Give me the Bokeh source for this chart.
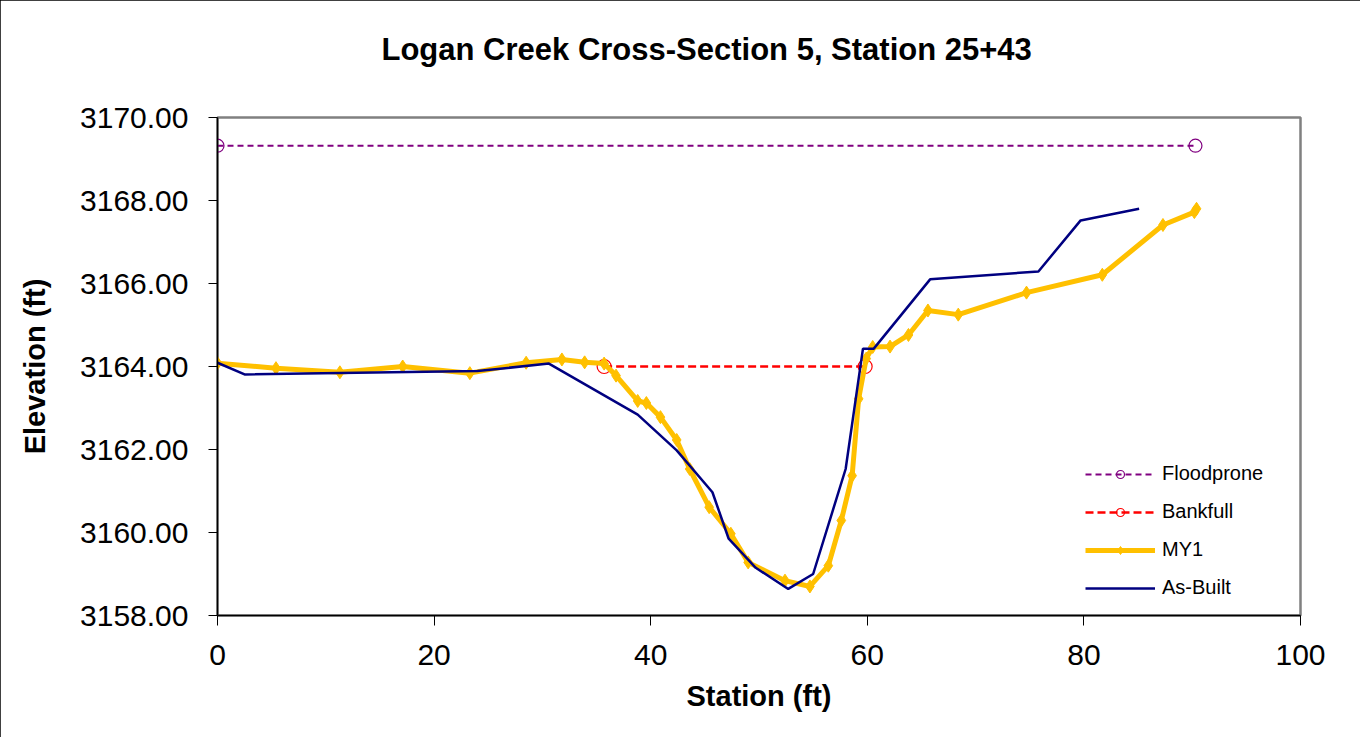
from bokeh.plotting import figure
from bokeh.models import Range1d, Legend, LegendItem, FixedTicker, NumeralTickFormatter, Title
from bokeh.embed import file_html
from bokeh.resources import INLINE

# ---- data ----
my1_station = [0, 5.4, 11.3, 17.1, 23.3, 28.5, 31.8, 33.9, 35.7, 36.8, 38.8, 39.6, 40.9,
               42.4, 43.6, 45.4, 47.4, 49.0, 52.4, 54.7, 56.4, 57.6, 58.6, 59.2, 59.9,
               60.5, 62.1, 63.8, 65.6, 68.4, 74.7, 81.7, 87.3, 90.2, 90.4]
my1_elev = [3164.08, 3163.96, 3163.86, 3164.00, 3163.84, 3164.09, 3164.17, 3164.10, 3164.07,
            3163.78, 3163.17, 3163.12, 3162.78, 3162.23, 3161.53, 3160.61, 3159.97, 3159.28,
            3158.84, 3158.70, 3159.20, 3160.29, 3161.37, 3163.22, 3164.19, 3164.47, 3164.48,
            3164.76, 3165.35, 3165.25, 3165.78, 3166.21, 3167.41, 3167.72, 3167.80]

asbuilt_station = [0, 2.5, 24.0, 30.6, 38.8, 42.4, 45.7, 47.2, 49.7, 52.7, 55.0, 58.0,
                   59.6, 60.6, 65.8, 75.8, 79.7, 85.1]
asbuilt_elev = [3164.09, 3163.81, 3163.89, 3164.07, 3162.84, 3161.98, 3160.97, 3159.85,
                3159.15, 3158.64, 3159.00, 3161.53, 3164.43, 3164.43, 3166.10, 3166.29,
                3167.52, 3167.80]

floodprone_station = [0, 90.3]
floodprone_elev = [3169.32, 3169.32]

bankfull_station = [35.7, 59.8]
bankfull_elev = [3164.0, 3164.0]

x_ticks = [0, 20, 40, 60, 80, 100]
y_ticks = [3158, 3160, 3162, 3164, 3166, 3168, 3170]

title_text = "Logan Creek Cross-Section 5, Station 25+43"
x_label = "Station (ft)"
y_label = "Elevation (ft)"

FONT = "Liberation Sans"

p = figure(frame_width=1083, frame_height=498,
           min_border_left=217, min_border_top=117, min_border_right=60, min_border_bottom=122,
           x_range=Range1d(0, 100), y_range=Range1d(3158, 3170),
           title=title_text,
           output_backend="svg", toolbar_location=None,
           background_fill_color="white", border_fill_color="white")
p.styles = {"outline": "1px solid #000000", "outline-offset": "-1px"}

p.title.text_font = FONT
p.title.text_font_size = "31px"
p.title.text_font_style = "bold"
p.title.text_color = "black"
p.title.align = "left"
p.title.offset = 164
p.title.standoff = 10

# empty spacer title between the chart title and the plot frame
spacer = Title(text=" ", text_font=FONT, text_font_size="20px", standoff=22)
p.add_layout(spacer, "above")

p.grid.visible = False
p.outline_line_color = "#808080"
p.outline_line_width = 2.5

# axes
p.xaxis.ticker = FixedTicker(ticks=x_ticks)
p.yaxis.ticker = FixedTicker(ticks=y_ticks)
p.yaxis.formatter = NumeralTickFormatter(format="0.00")
for ax in (p.xaxis[0], p.yaxis[0]):
    ax.axis_line_color = "black"
    ax.axis_line_width = 1.5
    ax.major_tick_line_color = "black"
    ax.major_tick_line_width = 1
    ax.major_tick_in = 0
    ax.minor_tick_line_color = None
    ax.major_label_text_font = FONT
    ax.major_label_text_font_size = "30px"
    ax.major_label_text_color = "black"
    ax.axis_label_text_font = FONT
    ax.axis_label_text_font_size = "29px"
    ax.axis_label_text_font_style = "bold"
    ax.axis_label_text_color = "black"
p.xaxis.major_tick_out = 10
p.yaxis.major_tick_out = 9
p.xaxis.major_label_standoff = 19
p.yaxis.major_label_standoff = 20
p.xaxis.axis_label = x_label
p.yaxis.axis_label = y_label
p.xaxis.axis_label_standoff = 12
p.yaxis.axis_label_standoff = 26

# series
fp_line = p.line(floodprone_station, floodprone_elev, line_color="#800080", line_width=2,
                 line_dash="6 4")
fp_mark = p.scatter(floodprone_station, floodprone_elev, marker="circle", size=13,
                    line_color="#800080", fill_color=None, line_width=1.2)

bf_line = p.line(bankfull_station, bankfull_elev, line_color="#FF0000", line_width=2.5,
                 line_dash="8 4")
bf_mark = p.scatter(bankfull_station, bankfull_elev, marker="circle", size=14,
                    line_color="#FF0000", fill_color=None, line_width=1.2)

my_line = p.line(my1_station, my1_elev, line_color="#FFC000", line_width=5)
my_mark = p.scatter(my1_station, my1_elev, marker="diamond", size=13,
                    line_color="#FFC000", fill_color="#FFC000")

ab_line = p.line(asbuilt_station, asbuilt_elev, line_color="#000080", line_width=2.5)

legend = Legend(items=[
    LegendItem(label="Floodprone", renderers=[fp_line, fp_mark]),
    LegendItem(label="Bankfull", renderers=[bf_line, bf_mark]),
    LegendItem(label="MY1", renderers=[my_line, my_mark]),
    LegendItem(label="As-Built", renderers=[ab_line]),
], location=(868, 16), orientation="vertical")
legend.border_line_color = None
legend.background_fill_alpha = 0
legend.padding = 0
legend.margin = 0
legend.spacing = 15
legend.glyph_width = 70
legend.glyph_height = 20
legend.label_height = 20
legend.label_standoff = 7
legend.label_text_font = FONT
legend.label_text_font_size = "20px"
legend.label_text_color = "black"
p.add_layout(legend, "center")

open("out.html", "w").write(file_html(p, INLINE))
